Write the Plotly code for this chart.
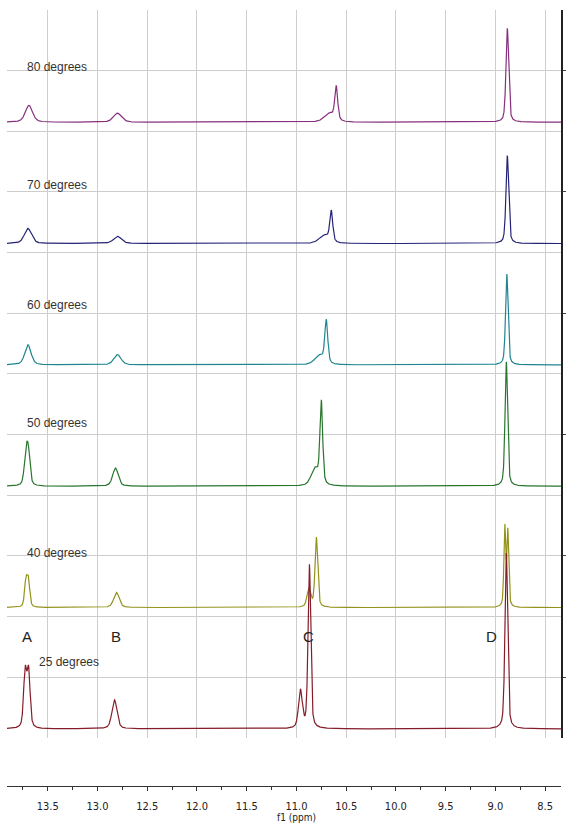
import numpy as np
import plotly.graph_objects as go

# ---------------- data ----------------
temps = ["80 degrees", "70 degrees", "60 degrees", "50 degrees", "40 degrees", "25 degrees"]
offsets = [10.15, 8.15, 6.15, 4.15, 2.15, 0.15]
colors = ["#86307c", "#242478", "#1f868f", "#28752d", "#93931b", "#841c29"]

# peaks: (centre ppm, height, FWHM ppm)
peaks_80 = [(13.69, 0.28, 0.085), (12.80, 0.15, 0.095), (10.60, 0.55, 0.035), (10.67, 0.14, 0.12), (8.88, 1.55, 0.032)]
peaks_70 = [(13.70, 0.25, 0.085), (12.80, 0.12, 0.095), (10.65, 0.50, 0.035), (10.72, 0.13, 0.12), (8.88, 1.45, 0.032)]
peaks_60 = [(13.70, 0.33, 0.075), (12.80, 0.17, 0.085), (10.70, 0.70, 0.035), (10.77, 0.15, 0.11), (8.885, 1.50, 0.03)]
peaks_50 = [(13.72, 0.50, 0.04), (13.695, 0.50, 0.04), (12.82, 0.30, 0.065), (10.75, 1.35, 0.032), (10.815, 0.28, 0.09), (8.89, 2.05, 0.03)]
peaks_40 = [(13.72, 0.42, 0.032), (13.695, 0.42, 0.032), (12.81, 0.25, 0.065), (10.80, 1.15, 0.032), (10.875, 0.30, 0.045), (8.905, 1.31, 0.022), (8.875, 1.24, 0.022)]
peaks_25 = [(13.728, 0.92, 0.036), (13.693, 0.92, 0.036), (12.83, 0.48, 0.06), (10.87, 2.70, 0.032), (10.96, 0.62, 0.045), (8.89, 2.90, 0.032)]
all_peaks = [peaks_80, peaks_70, peaks_60, peaks_50, peaks_40, peaks_25]

label_x = [13.73, 13.73, 13.73, 13.73, 13.73, 13.61]
label_y = [11.06, 9.11, 7.14, 5.19, 3.05, 1.25]

peak_letters = ["A", "B", "C", "D"]
letter_x = [13.71, 12.81, 10.88, 9.04]
letter_y = 1.665

x_ticks = [13.5, 13.0, 12.5, 12.0, 11.5, 11.0, 10.5, 10.0, 9.5, 9.0, 8.5]
x_range = [13.91, 8.34]

# ---------------- build figure ----------------
ppm = np.linspace(x_range[0], x_range[1], 4000)


def spectrum(peaks, eta=0.45):
    y = np.zeros_like(ppm)
    for c, h, w in peaks:
        d = (ppm - c) / (w / 2.0)
        lor = 1.0 / (1.0 + d ** 2)
        gau = np.exp(-np.log(2) * d ** 2)
        y += h * (eta * lor + (1 - eta) * gau)
    return y


fig = go.Figure()
for name, off, col, pk in zip(temps, offsets, colors, all_peaks):
    fig.add_trace(go.Scatter(x=ppm, y=spectrum(pk) + off, mode="lines",
                             line=dict(color=col, width=1.2), name=name,
                             showlegend=False, hoverinfo="skip"))

grid = "#cdcdcd"
narrow = "Liberation Sans Narrow, DejaVu Sans Condensed, Liberation Sans, Arial, sans-serif"

fig.update_layout(
    width=569, height=824,
    margin=dict(l=7, r=5, t=10, b=38),
    paper_bgcolor="white", plot_bgcolor="white",
    xaxis=dict(range=x_range, showticklabels=False, ticks="", showgrid=True,
               gridcolor=grid, gridwidth=1, tickvals=x_ticks, zeroline=False,
               showline=False, anchor="y"),
    yaxis=dict(domain=[0.0619, 1], range=[0, 12], side="right", showline=True,
               linecolor="#222", linewidth=1.5, ticks="outside", ticklen=3,
               tickcolor="#444", tickvals=[1, 3, 5, 7, 9, 11], showticklabels=False,
               showgrid=True, gridcolor=grid, zeroline=False,
               minor=dict(tickvals=[0, 2, 4, 6, 8, 10, 12], showgrid=True,
                          gridcolor=grid, ticks="")),
    xaxis2=dict(range=x_range, anchor="y2", showline=True, linecolor="#333",
                linewidth=1, ticks="outside", ticklen=4, tickcolor="#333",
                tickvals=x_ticks, ticktext=[f"{v:.1f}" for v in x_ticks],
                showgrid=False, zeroline=False, ticklabelstandoff=6,
                tickfont=dict(family=narrow, size=11, color="#222"),
                minor=dict(dtick=0.25, tick0=8.5, ticks="outside", ticklen=3,
                           tickcolor="#333")),
    yaxis2=dict(domain=[0, 0.01], visible=False, range=[0, 1]),
)

fig.add_trace(go.Scatter(x=[x_range[0]], y=[-1], xaxis="x2", yaxis="y2",
                         mode="markers", marker=dict(opacity=0),
                         showlegend=False, hoverinfo="skip"))

for t, lx, ly in zip(temps, label_x, label_y):
    fig.add_annotation(x=lx, y=ly, xref="x", yref="y", text=t, showarrow=False,
                       xanchor="left", yanchor="middle",
                       font=dict(family="Liberation Sans, Arial, sans-serif", size=12, color="#333"))

for L, lx in zip(peak_letters, letter_x):
    fig.add_annotation(x=lx, y=letter_y, xref="x", yref="y", text=L, showarrow=False,
                       xanchor="center", yanchor="middle",
                       font=dict(family="Liberation Sans, Arial, sans-serif", size=15, color="#222"))

fig.add_annotation(x=11.0, y=-0.04, xref="x2", yref="paper", text="f1 (ppm)",
                   showarrow=False, xanchor="center", yanchor="middle",
                   font=dict(family=narrow, size=10, color="#222"))

fig.write_html("out.html", config={"displayModeBar": False},
               post_script="document.body.style.margin='0';document.body.style.overflow='hidden';")
